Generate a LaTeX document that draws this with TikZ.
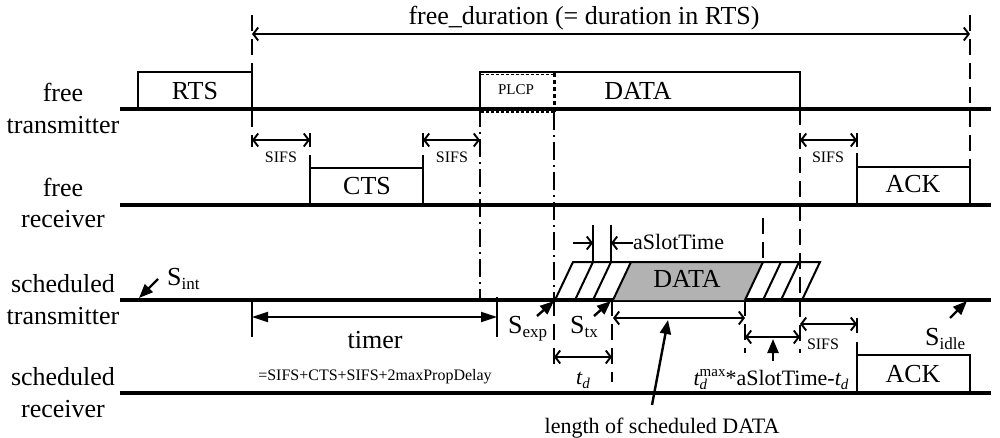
\documentclass[tikz,border=0pt]{standalone}
\usepackage{fontspec}
\setmainfont{Liberation Serif}
\usetikzlibrary{arrows.meta}
\newcommand{\subsz}[1]{\raisebox{-4pt}{\fontsize{17}{20}\selectfont #1}}
\newcommand{\Slab}[1]{{\fontsize{26}{30}\selectfont S}\subsz{#1}}
\newcommand{\tdlab}{{\itshape t}\raisebox{-4pt}{\fontsize{15}{17}\selectfont\itshape d}}
\begin{document}
\begin{tikzpicture}[x=1pt,y=-1pt,
  baseln/.style={line width=3.2pt},
  pulse/.style={line width=2.9pt},
  thinln/.style={line width=1.9pt},
  dimln/.style={line width=1.9pt,{Straight Barb[length=5pt,width=13pt]}-{Straight Barb[length=5pt,width=13pt]}},
  onechev/.style={line width=1.9pt,-{Straight Barb[length=5pt,width=13pt]}},
  fillarr/.style={line width=2.4pt,-{Triangle[length=14pt,width=11pt]}},
  dashln/.style={line width=1.9pt,dash pattern=on 16pt off 8pt},
  dashdot/.style={line width=1.9pt,dash pattern=on 18pt off 5pt on 2pt off 5pt},
  big/.style={font=\fontsize{26}{30}\selectfont,inner sep=0pt},
  mid/.style={font=\fontsize{22}{26}\selectfont,inner sep=0pt},
  small/.style={font=\fontsize{16}{18}\selectfont,inner sep=0pt},
  tiny/.style={font=\fontsize{15}{17}\selectfont,inner sep=0pt},
]
\useasboundingbox (0,0) rectangle (1000,438);

% row labels
\node[big,anchor=base] (ft1) at (63,102) {free};
\node[big,anchor=base] (ft2) at (63,134) {transmitter};
\node[big,anchor=base] (fr1) at (63,197) {free};
\node[big,anchor=base] (fr2) at (63,228) {receiver};
\node[big,anchor=base] (st1) at (63,292) {scheduled};
\node[big,anchor=base] (st2) at (63,324) {transmitter};
\node[big,anchor=base] (sr1) at (63,385) {scheduled};
\node[big,anchor=base] (sr2) at (63,417) {receiver};

% guide lines
\draw[dashln] (252,15) -- (252,147);
\draw[dashln] (970,15) -- (970,167);
\draw[dashdot] (480,109) -- (480,300);
\draw[dashdot] (554,112) -- (554,300);
\draw[dashln] (554,300) -- (554,368);
\draw[dashln] (800,109) -- (800,353);
\draw[dashln] (763,218) -- (763,262);
\draw[dashln] (745,300) -- (745,353);
\draw[dashln] (612,300) -- (612,382);

% baselines
\draw[baseln] (120,109) -- (991,109);
\draw[baseln] (120,205) -- (991,205);
\draw[baseln] (120,300) -- (991,300);
\draw[baseln] (120,393) -- (991,393);

% free transmitter
\draw[pulse] (138,109) -- (138,72) -- (252,72) -- (252,109);
\node[big,anchor=base] (rts) at (195,100) {RTS};
\draw[pulse] (480,109) -- (480,72) -- (800,72) -- (800,109);
\draw[line width=1pt,dash pattern=on 3pt off 2pt] (481,75) -- (554,75);
\draw[line width=1.4pt,dash pattern=on 3pt off 2pt] (481,112) -- (554,112);
\draw[line width=3pt,dash pattern=on 4pt off 3pt] (554,73) -- (554,112);
\node[tiny,anchor=base] (plcp) at (516,95) {PLCP};
\node[big,anchor=base] (fdata) at (638,100) {DATA};

% free_duration
\draw[dimln] (252,34) -- (970,34);
\node[big,anchor=base] (fdur) at (584,25) {free\_duration (= duration in RTS)};

% free receiver
\draw[pulse] (310,205) -- (310,155) (310,168) -- (423,168) (423,155) -- (423,205);
\node[big,anchor=base] (cts) at (367,195) {CTS};
\draw[pulse] (857,205) -- (857,153) (857,167) -- (970,167) -- (970,205);
\node[big,anchor=base] (fack) at (913,193) {ACK};

% SIFS (free)
\draw[dimln] (252,140) -- (310,140);
\draw[thinln] (310,133) -- (310,147);
\node[small,anchor=base] (sifs1) at (281,163) {SIFS};
\draw[dimln] (423,140) -- (480,140);
\draw[thinln] (423,133) -- (423,147);
\node[small,anchor=base] (sifs2) at (452,163) {SIFS};
\draw[dimln] (800,140) -- (857,140);
\draw[thinln] (857,133) -- (857,147);
\node[small,anchor=base] (sifs3) at (828,163) {SIFS};

% scheduled transmitter frame
\fill[black!30] (613,300) -- (631,262) -- (763,262) -- (745,300) -- cycle;
\draw[line width=2pt] (555,300) -- (573,262) -- (820,262) -- (802,300);
\draw[line width=2pt] (575,300) -- (593,262) (593,300) -- (611,262)
  (613,300) -- (631,262) (745,300) -- (763,262)
  (763,300) -- (781,262) (781,300) -- (799,262);
\node[big,anchor=base] (sdata) at (687,287) {DATA};
\draw[thinln] (593,225) -- (593,262) (611,225) -- (611,262);
\draw[onechev] (573,243) -- (593,243);
\draw[onechev] (633,243) -- (611,243);
\node[mid,anchor=base west] (aslot) at (633,250) {aSlotTime};

% state markers
\node[anchor=base west,inner sep=0pt] (sint) at (167,285) {\Slab{int}};
\draw[fillarr] (158,279) -- (139,298);
\node[anchor=base west,inner sep=0pt] (sexp) at (508,333) {\Slab{exp}};
\draw[fillarr] (537,316) -- (554,301);
\node[anchor=base west,inner sep=0pt] (stx) at (570,333) {\Slab{tx}};
\draw[fillarr] (594,316) -- (611,301);
\node[anchor=base west,inner sep=0pt] (sidle) at (925,345) {\Slab{idle}};
\draw[fillarr] (950,318) -- (967,301);

% timer
\draw[thinln] (252,300) -- (252,337) (497,297) -- (497,337);
\draw[line width=2.2pt,{Triangle[length=16pt,width=10pt]}-{Triangle[length=16pt,width=10pt]}] (252,317) -- (497,317);
\node[big,anchor=base] (timer) at (375,348) {timer};
\node[small,anchor=base] (tform) at (375,380) {=SIFS+CTS+SIFS+2maxPropDelay};

% length of scheduled DATA
\draw[dimln] (613,318) -- (745,318);
\node[mid,anchor=base] (lsd) at (662,433) {length of scheduled DATA};
\draw[fillarr] (652,405) -- (668,320);

% t_d
\draw[dimln] (554,357) -- (612,357);
\node[mid,anchor=base] (td) at (583,384) {\tdlab};

% t_d^max
\draw[dimln] (745,337) -- (800,337);
\node[mid,anchor=base] (tdmax) at (771,385) {{\itshape t}\rlap{\raisebox{-4pt}{\fontsize{15}{17}\selectfont\itshape d}}\raisebox{9pt}{\fontsize{15}{17}\selectfont max}*aSlotTime-\tdlab};
\draw[fillarr] (773,361) -- (773,339);

% SIFS (scheduled)
\draw[dimln] (800,324) -- (857,324);
\draw[thinln] (857,318) -- (857,333);
\node[small,anchor=base] (sifs4) at (823,349) {SIFS};
\draw[pulse] (857,393) -- (857,342) (857,355) -- (970,355) -- (970,393);
\node[big,anchor=base] (sack) at (913,382) {ACK};
\end{tikzpicture}
\end{document}
